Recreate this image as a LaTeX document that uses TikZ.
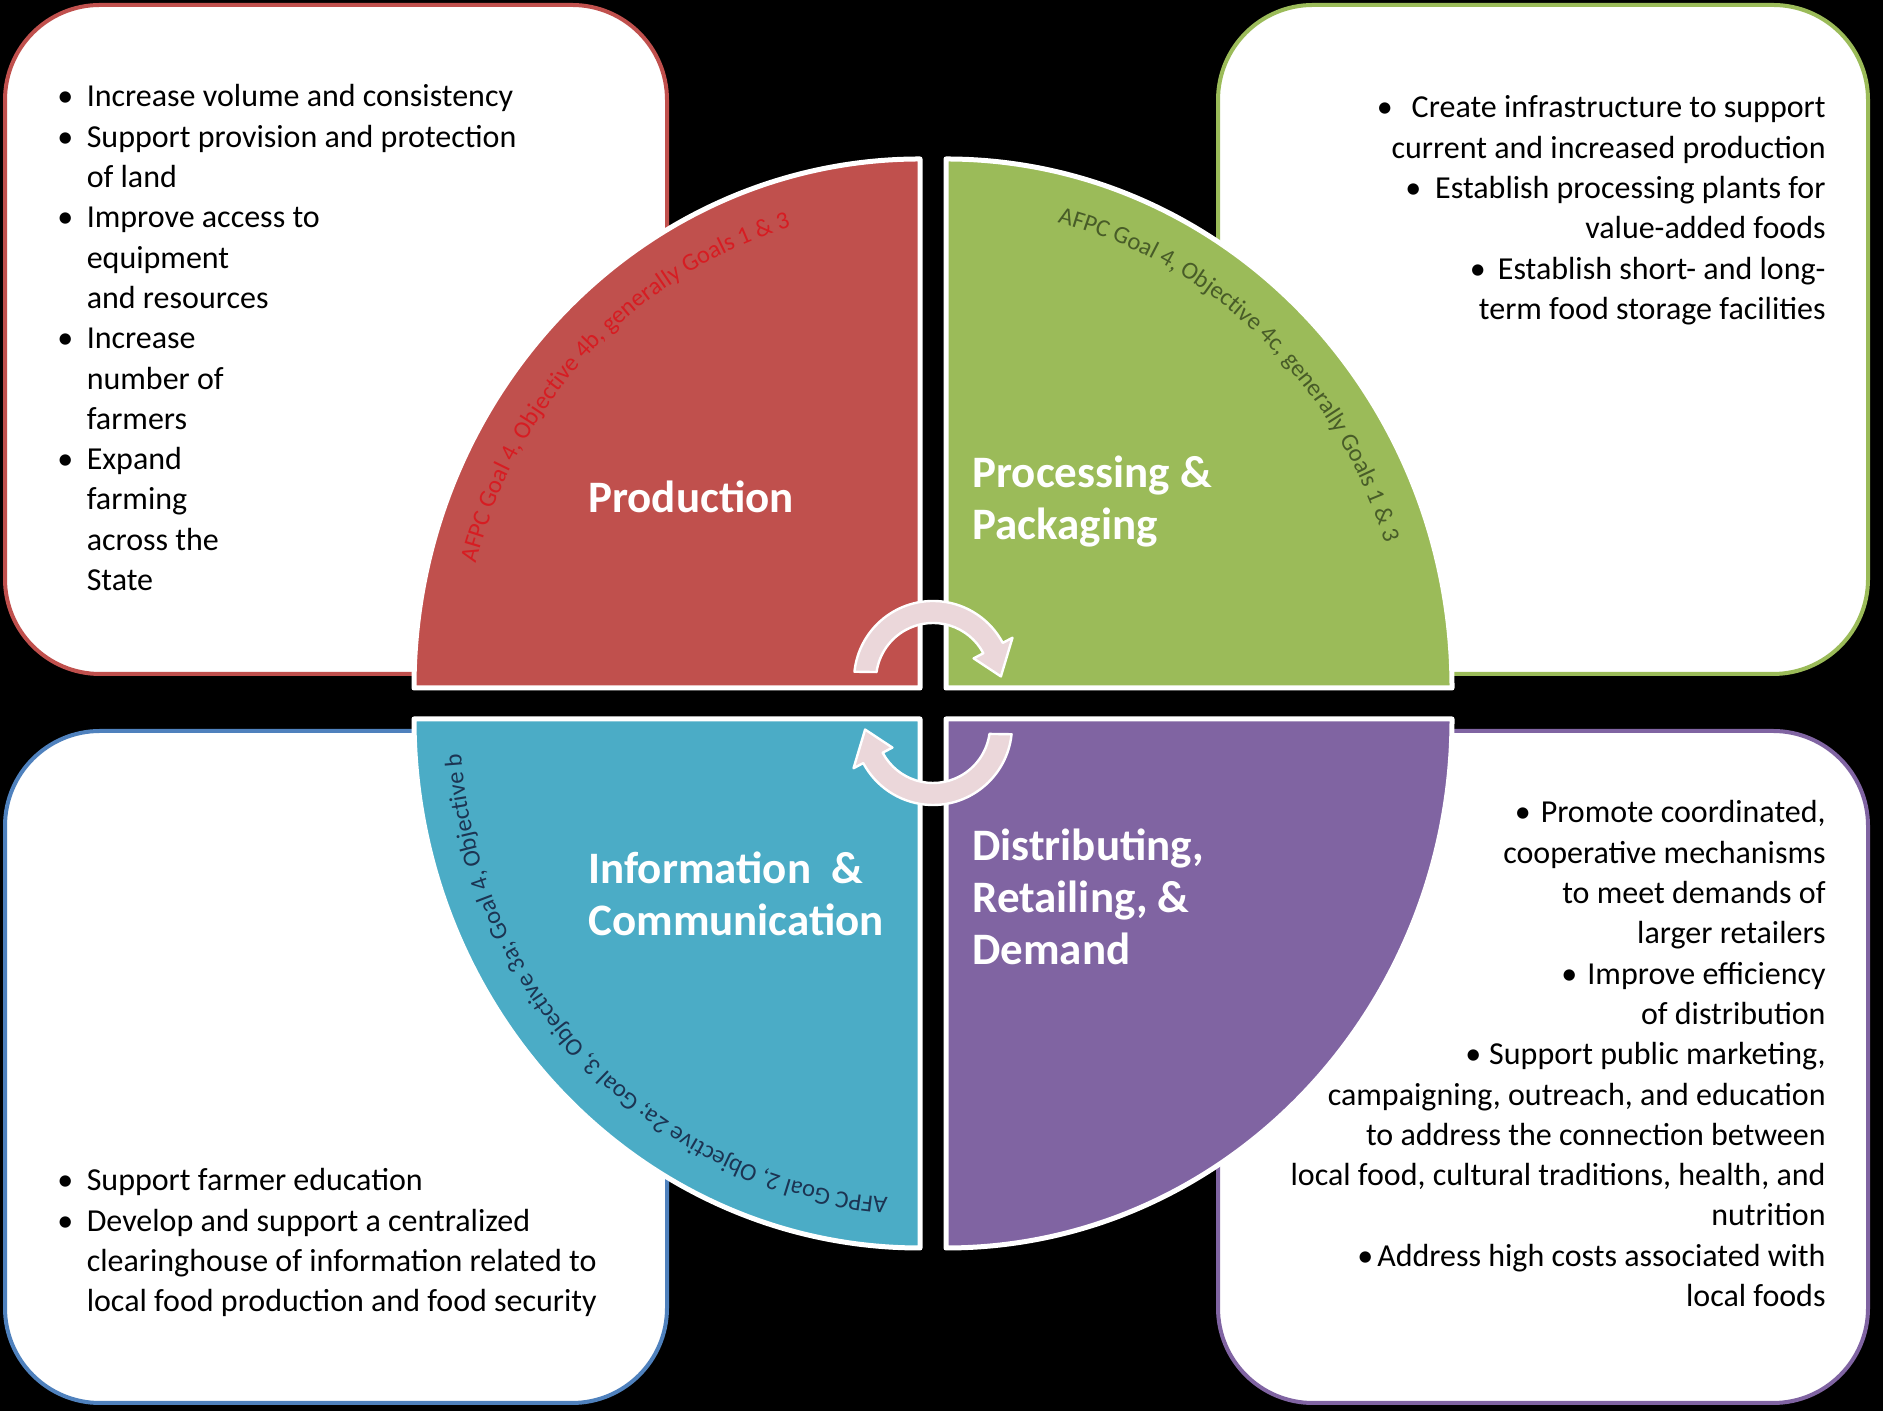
\documentclass[tikz,border=0pt]{standalone}
\usepackage{fontspec}
\setmainfont{Carlito}
\usetikzlibrary{decorations.text}
\definecolor{qred}{RGB}{192,80,77}
\definecolor{qgreen}{RGB}{155,187,89}
\definecolor{qblue}{RGB}{75,172,198}
\definecolor{qpurple}{RGB}{128,100,162}
\definecolor{bluebox}{RGB}{79,129,189}
\definecolor{redtxt}{RGB}{215,28,34}
\definecolor{greentxt}{RGB}{72,92,40}
\definecolor{bluetxt}{RGB}{28,52,82}
\definecolor{arrowpink}{RGB}{235,215,218}
\newcommand{\bulL}{\makebox[14.7pt][l]{\makebox[8pt][c]{•}}}
\newcommand{\indL}{\hspace*{14.7pt}}
\newcommand{\bulR}[1]{\makebox[8pt][c]{•}\hspace{#1}}
\newcommand{\arcfont}{\fontsize{12.3}{13}\selectfont}
\begin{document}
\begin{tikzpicture}[x=0.5pt,y=0.5pt,
  qshape/.style={line width=2.5pt, draw=white, line join=round},
  infobox/.style={line width=2pt, fill=white, rounded corners=47.5pt},
  bodytext/.style={inner sep=0pt, text=black, font=\fontsize{16}{20.15}\selectfont},
  titletext/.style={inner sep=0pt, text=white, font=\fontsize{22.5}{26}\selectfont\bfseries},
  cyc/.style={fill=arrowpink, draw=white, line width=1.2pt, line join=round}]
\fill[black] (0,0) rectangle (1883,1411);
\useasboundingbox (0,0) rectangle (1883,1411);

% boxes
\draw[infobox, draw=qred] (5,737) rectangle (667,1406);
\draw[infobox, draw=qgreen] (1218,737) rectangle (1868,1406);
\draw[infobox, draw=bluebox] (5,8) rectangle (667,680);
\draw[infobox, draw=qpurple] (1218,8) rectangle (1868,680);

% quadrants
\draw[qshape, fill=qred] (920,723) -- (414,723) arc[start angle=180, end angle=90, x radius=506, y radius=529] -- cycle;
\draw[qshape, fill=qgreen] (946,723) -- (1452,723) arc[start angle=0, end angle=90, x radius=506, y radius=529] -- cycle;
\draw[qshape, fill=qblue] (920,692) -- (414,692) arc[start angle=180, end angle=270, x radius=506, y radius=529] -- cycle;
\draw[qshape, fill=qpurple] (946,692) -- (1452,692) arc[start angle=0, end angle=-90, x radius=506, y radius=529] -- cycle;

% arc texts
\begin{scope}[shift={(920,723)}]
\path[decorate, decoration={text along path, text={|\arcfont\color{redtxt}|AFPC Goal 4, Objective 4b, generally Goals 1 {\&} 3}}]
  (165:460 and 480) arc[start angle=165, end angle=92, x radius=460, y radius=480];
\end{scope}
\begin{scope}[shift={(946,723)}]
\path[decorate, decoration={text along path, text={|\arcfont\color{greentxt}|AFPC Goal 4, Objective 4c, generally Goals 1 {\&} 3}}]
  (76:460 and 480) arc[start angle=76, end angle=2, x radius=460, y radius=480];
\end{scope}
\begin{scope}[shift={(920,692)}]
\path[decorate, decoration={text along path, text={|\arcfont\color{bluetxt}|AFPC Goal 2, Objective 2a; Goal 3, Objective 3a; Goal 4, Objective b}}]
  (266:460 and 480) arc[start angle=266, end angle=176, x radius=460, y radius=480];
\end{scope}

% titles
\node[titletext, anchor=base west] (prod) at (588,898) {Production};
\node[titletext, anchor=base west] (proc) at (972,923) {\begin{tabular}[t]{@{}l@{}}Processing \&\\Packaging\end{tabular}};
\node[titletext, anchor=base west] (info) at (588,527) {\begin{tabular}[t]{@{}l@{}}Information \ \&\\Communication\end{tabular}};
\node[titletext, anchor=base west] (dist) at (972,550) {\begin{tabular}[t]{@{}l@{}}Distributing,\\Retailing, \&\\Demand\end{tabular}};

% cycle arrows
\begin{scope}[shift={(933,731)}]
\draw[cyc] (174:79) arc[start angle=174, end angle=28, radius=79] -- (28:90) -- (3:68) -- (28:46) -- (28:57) arc[start angle=28, end angle=172, radius=57] -- cycle;
\end{scope}
\begin{scope}[shift={(933,685)}]
\draw[cyc] (354:79) arc[start angle=354, end angle=208, radius=79] -- (208:90) -- (183:68) -- (208:46) -- (208:57) arc[start angle=208, end angle=352, radius=57] -- cycle;
\end{scope}

% lists
\node[bodytext, anchor=base west] (prodlist) at (57,1304) {\begin{tabular}[t]{@{}l@{}}
\bulL Increase volume and consistency\\
\bulL Support provision and protection\\
\indL of land\\
\bulL Improve access to\\
\indL equipment\\
\indL and resources\\
\bulL Increase\\
\indL number of\\
\indL farmers\\
\bulL Expand\\
\indL farming\\
\indL across the\\
\indL State
\end{tabular}};

\node[bodytext, anchor=base east] (proclist) at (1826,1293) {\begin{tabular}[t]{@{}r@{}}
\bulR{9.5pt}Create infrastructure to support\\
current and increased production\\
\bulR{7pt}Establish processing plants for\\
value-added foods\\
\bulR{6pt}Establish short- and long-\\
term food storage facilities
\end{tabular}};

\node[bodytext, anchor=base west] (infolist) at (57,220) {\begin{tabular}[t]{@{}l@{}}
\bulL Support farmer education\\
\bulL Develop and support a centralized\\
\indL clearinghouse of information related to\\
\indL local food production and food security
\end{tabular}};

\node[bodytext, anchor=base east] (distlist) at (1826,588) {\begin{tabular}[t]{@{}r@{}}
\bulR{5pt}Promote coordinated,\\
cooperative mechanisms\\
to meet demands of\\
larger retailers\\
\bulR{5pt}Improve efficiency\\
of distribution\\
\bulR{4pt}Support public marketing,\\
campaigning, outreach, and education\\
to address the connection between\\
local food, cultural traditions, health, and\\
nutrition\\
\bulR{2pt}Address high costs associated with\\
local foods
\end{tabular}};
\end{tikzpicture}
\end{document}
